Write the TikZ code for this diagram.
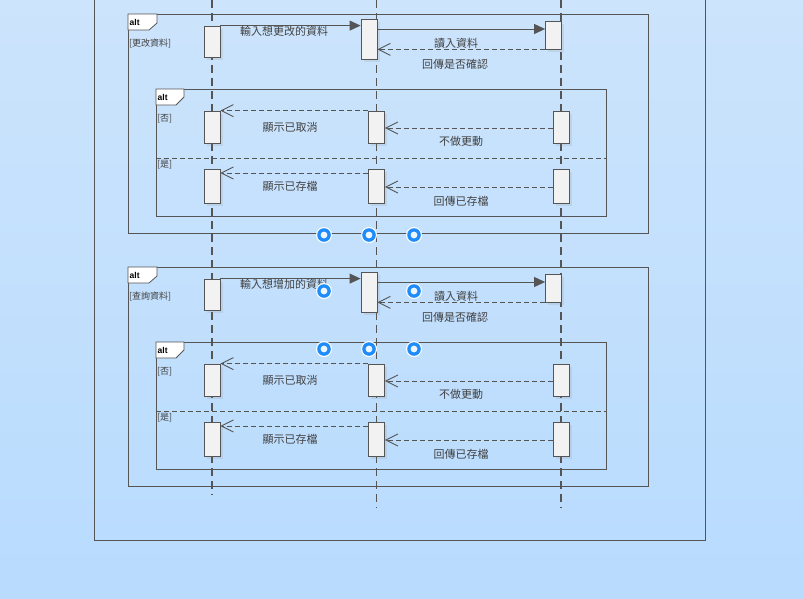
\documentclass[tikz,border=0pt]{standalone}
\usepackage{fontspec}
\setmainfont{Noto Sans CJK TC}
\newfontfamily\altfont{Liberation Sans}
\usetikzlibrary{arrows.meta}
\usetikzlibrary{shadows}

\definecolor{bgtop}{HTML}{CCE4FC}
\definecolor{bgbottom}{HTML}{B8DBFE}
\definecolor{linegray}{HTML}{555555}
\definecolor{boxfill}{HTML}{F2F2F2}
\definecolor{textgray}{HTML}{404040}
\definecolor{handleblue}{HTML}{1E8CFA}
\definecolor{handlehole}{HTML}{EEF6FF}

\tikzset{
	actbox/.style={draw=linegray, fill=boxfill, line width=0.8pt, minimum width=16pt, inner sep=0pt,
		drop shadow={shadow xshift=2.5pt, shadow yshift=-2.5pt, opacity=0.15}},
	lifeline/.style={draw=linegray, line width=1.3pt, dash pattern=on 8pt off 5pt},
	frame/.style={draw=linegray, line width=0.8pt},
	call/.style={draw=linegray, line width=0.9pt, -{Triangle[length=11pt,width=10pt]}},
	reply/.style={draw=linegray, line width=0.9pt, dash pattern=on 5pt off 3pt, -{Straight Barb[length=12pt,width=12pt]}},
	msglabel/.style={font=\fontsize{11}{13}\selectfont, text=textgray, inner sep=0pt},
	guard/.style={font=\fontsize{9}{11}\selectfont, text=textgray, anchor=west, inner sep=0pt},
	altlabel/.style={font=\altfont\bfseries\fontsize{8.5}{10}\selectfont, anchor=west, inner sep=0pt},
}

\begin{document}
\begin{tikzpicture}[x=1pt, y=-1pt]
			\shade[top color=bgtop, bottom color=bgbottom] (0,0) rectangle (803,598);
			\useasboundingbox (0,0) rectangle (803,598);
			% outer frame
			\draw[frame] (94,0) -- (94,540) -- (705,540) -- (705,0);
			% lifelines
			\coordinate (usertop) at (212,0);
			\coordinate (userend) at (212,495);
			\coordinate (systop) at (376.5,0);
			\coordinate (sysend) at (376.5,508);
			\coordinate (dbtop) at (561,0);
			\coordinate (dbend) at (561,508);
			\draw[lifeline] (usertop) -- (userend);
			\draw[lifeline] (systop) -- (sysend);
			\draw[lifeline] (dbtop) -- (dbend);
			% the two alt blocks
			\foreach \off/\guard/\first in {0/更改資料/輸入想更改的資料, 253/查詢資料/輸入想增加的資料}{
			\begin{scope}[shift={(0,\off)}]
				\draw[frame] (128,14) rectangle (648,233);
				\draw[frame, fill=white] (128,14) -- (157,14) -- (157,23) -- (149,30) -- (128,30) -- cycle;
				\node[altlabel] (altouter) at (129.5,22) {alt};
				\node[guard] (guardouter) at (129,43) {[\guard]};
				\draw[frame] (156,89) rectangle (606,216);
				\draw[frame, fill=white] (156,89) -- (184,89) -- (184,97) -- (176,105) -- (156,105) -- cycle;
				\node[altlabel] (altinner) at (157.5,97) {alt};
				\node[guard] (guardno) at (157,119) {[否]};
				\node[guard] (guardyes) at (157,165) {[是]};
				\draw[frame, dash pattern=on 5pt off 3pt] (156,158) -- (606,158);
				% activations
				\node[actbox, minimum height=31pt] (usera) at (212,41.5) {};
				\node[actbox, minimum height=40pt] (sysa) at (369,39) {};
				\node[actbox, minimum height=28pt] (dba) at (553.5,35) {};
				\node[actbox, minimum height=32pt] (userb) at (212,127) {};
				\node[actbox, minimum height=32pt] (sysb) at (376.5,127) {};
				\node[actbox, minimum height=32pt] (dbb) at (561,127) {};
				\node[actbox, minimum height=34pt] (userc) at (212,186) {};
				\node[actbox, minimum height=34pt] (sysc) at (376.5,186) {};
				\node[actbox, minimum height=34pt] (dbc) at (561,186) {};
				% messages
				\draw[call] (usera.north east) -- (usera.north east -| sysa.west);
				\draw[call] (sysa.east |- 0,29) -- (dba.west |- 0,29);
				\draw[reply] (dba.south west) -- (dba.south west -| sysa.east);
				\draw[reply] (sysb.north west) -- (sysb.north west -| userb.east);
				\draw[reply] (dbb.west |- 0,128) -- (sysb.east |- 0,128);
				\draw[reply] (sysc.west |- 0,173) -- (userc.east |- 0,173);
				\draw[reply] (dbc.west |- 0,187) -- (sysc.east |- 0,187);
				\node[msglabel] (lblinput) at (284,31) {\first};
				\node[msglabel] (lblread) at (456,43) {讀入資料};
				\node[msglabel] (lblconfirm) at (455,64) {回傳是否確認};
				\node[msglabel] (lblcancel) at (290,127) {顯示已取消};
				\node[msglabel] (lblnochange) at (461,141) {不做更動};
				\node[msglabel] (lblsaved) at (290,186) {顯示已存檔};
				\node[msglabel] (lblreturned) at (461,201) {回傳已存檔};
			\end{scope}
			}
			% selection handles
			\foreach \hx/\hy in {324/235, 369/235, 414/235, 324/291, 414/291, 324/349, 369/349, 414/349}{
				\fill[white] (\hx,\hy) circle[radius=8];
				\fill[handleblue] (\hx,\hy) circle[radius=6.8];
				\fill[handlehole] (\hx,\hy) circle[radius=3.4];
			}
		\end{tikzpicture}
\end{document}
